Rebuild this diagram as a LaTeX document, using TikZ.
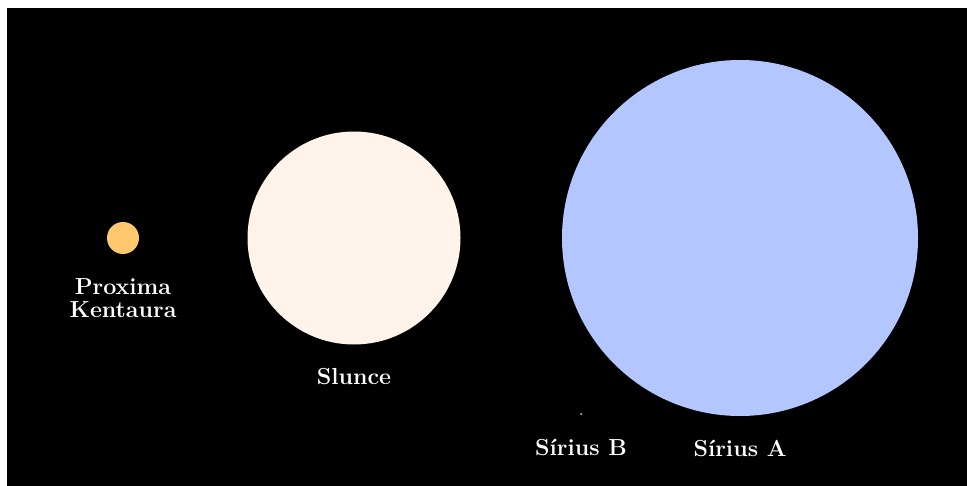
\documentclass[tikz,border=0pt]{standalone}
\definecolor{proximac}{RGB}{255,200,110}
\definecolor{sunc}{RGB}{255,243,234}
\definecolor{siriusac}{RGB}{180,198,255}
\definecolor{siriusbc}{RGB}{200,210,255}
\begin{document}
\begin{tikzpicture}[x=0.5pt,y=-0.5pt,
  star/.style={circle,inner sep=0pt,draw=none},
  lbl/.style={text=white,font=\fontsize{11.6}{11.8}\selectfont\bfseries,align=center,inner sep=0pt}]
\useasboundingbox (0,0) rectangle (967,486);
\fill[white] (0,0) rectangle (967,486);
\fill[black] (7,8) rectangle (967,486);
\node[star,fill=proximac,minimum size=16pt] (proxima) at (123,238) {};
\node[star,fill=sunc,minimum size=106.5pt] (sun) at (354,238) {};
\node[star,fill=siriusac,minimum size=178pt] (siriusA) at (740,238) {};
\node[star,fill=siriusbc,minimum size=1pt] (siriusB) at (581,414) {};
\node[lbl] (lproxima) at (123,298) {Proxima\\Kentaura};
\node[lbl] (lsun) at (354,377) {Slunce};
\node[lbl] (lsiriusB) at (581,447) {Sírius B};
\node[lbl] (lsiriusA) at (740,448) {Sírius A};
\end{tikzpicture}
\end{document}
